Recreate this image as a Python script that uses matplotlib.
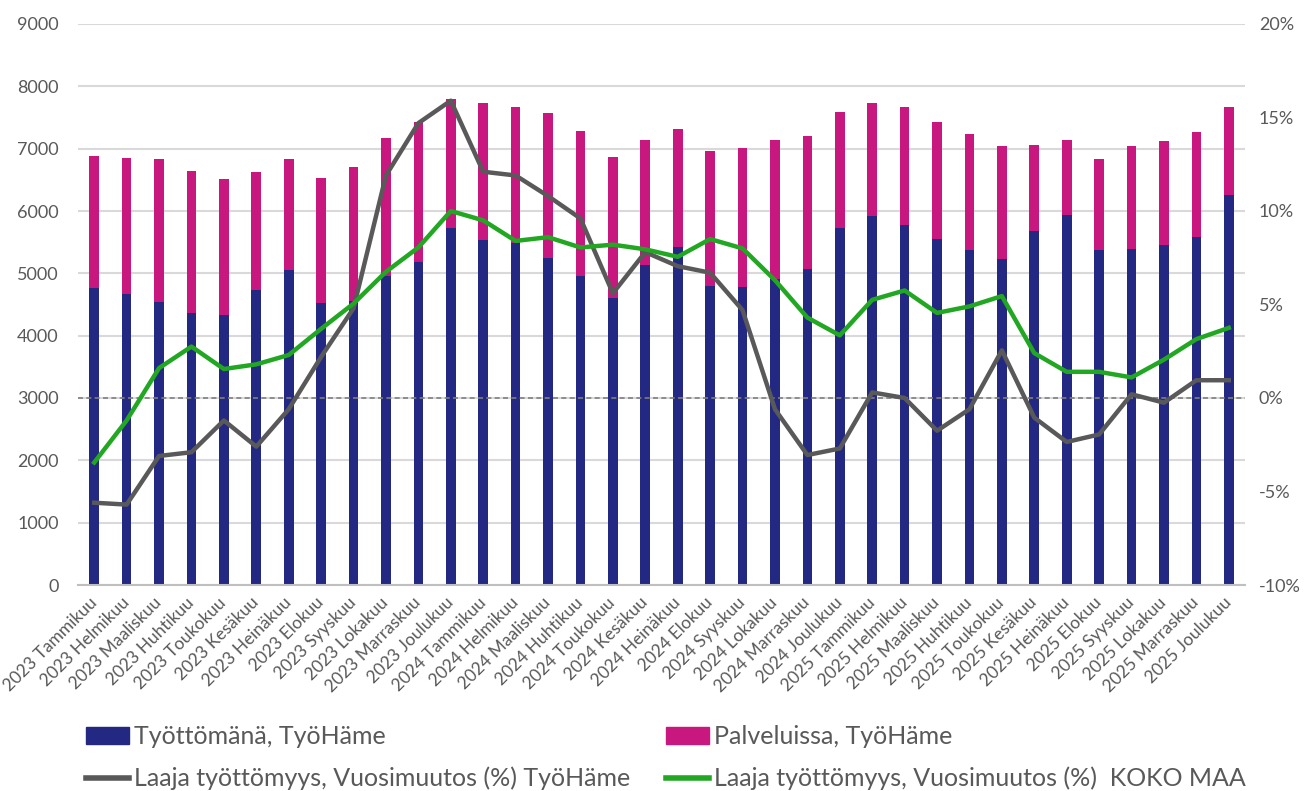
import matplotlib
matplotlib.use("Agg")
import matplotlib.pyplot as plt
from matplotlib.patches import Patch
from matplotlib.lines import Line2D
from matplotlib.ticker import FuncFormatter, MultipleLocator

plt.rcParams['font.family'] = ['Lato', 'DejaVu Sans']

months = ["Tammikuu", "Helmikuu", "Maaliskuu", "Huhtikuu", "Toukokuu", "Kesäkuu",
          "Heinäkuu", "Elokuu", "Syyskuu", "Lokakuu", "Marraskuu", "Joulukuu"]
categories = [f"{y} {m}" for y in (2023, 2024, 2025) for m in months]

tyottomana = [4770, 4670, 4545, 4370, 4325, 4730, 5055, 4530, 4560, 4960, 5185, 5730,
              5535, 5480, 5245, 4955, 4605, 5135, 5420, 4795, 4780, 4910, 5070, 5720,
              5915, 5770, 5545, 5370, 5235, 5680, 5940, 5370, 5395, 5450, 5590, 6260]
totals = [6885, 6855, 6830, 6640, 6510, 6625, 6835, 6535, 6705, 7175, 7430, 7800,
          7725, 7665, 7565, 7280, 6865, 7145, 7315, 6965, 7010, 7145, 7205, 7590,
          7740, 7665, 7430, 7240, 7040, 7065, 7145, 6835, 7035, 7130, 7270, 7665]
palveluissa = [t - u for t, u in zip(totals, tyottomana)]

muutos_tyohame = [-5.6, -5.7, -3.1, -2.9, -1.2, -2.6, -0.6, 2.2, 4.8, 11.9, 14.7, 15.9,
                  12.1, 11.9, 10.8, 9.6, 5.6, 7.8, 7.05, 6.7, 4.7, -0.6, -3.05, -2.7,
                  0.3, 0.0, -1.75, -0.6, 2.55, -1.05, -2.35, -1.95, 0.2, -0.25, 0.95, 0.95]
muutos_koko_maa = [-3.45, -1.2, 1.6, 2.75, 1.55, 1.8, 2.3, 3.7, 5.05, 6.75, 8.05, 10.0,
                   9.5, 8.4, 8.6, 8.05, 8.2, 7.95, 7.55, 8.5, 8.0, 6.3, 4.3, 3.35,
                   5.25, 5.75, 4.55, 4.9, 5.45, 2.4, 1.4, 1.4, 1.1, 2.05, 3.15, 3.75]

navy = "#232882"
magenta = "#C8177F"
grey = "#595959"
green = "#22A722"
txt = "#595959"

fig = plt.figure(figsize=(13.05, 7.91), dpi=100)
ax = fig.add_axes([78/1305, 1-585/791, (1245-78)/1305, (585-24)/791])
x = list(range(len(categories)))
bw = 0.3
ax.bar(x, tyottomana, width=bw, color=navy, zorder=2)
ax.bar(x, palveluissa, width=bw, bottom=tyottomana, color=magenta, zorder=2)
ax.set_ylim(0, 9000)
ax.set_xlim(-0.5, len(categories) - 0.5)
ax.yaxis.set_major_locator(MultipleLocator(1000))
ax.grid(axis='y', color="#D9D9D9", linewidth=1.5, zorder=0)
for s in ("top", "right", "left"):
    ax.spines[s].set_visible(False)
ax.spines["bottom"].set_color("#BFBFBF")
ax.spines["bottom"].set_linewidth(1.5)
ax.tick_params(axis='y', length=0, pad=14, labelsize=13, labelcolor=txt)
ax.tick_params(axis='x', length=0, pad=6, labelsize=12.5, labelcolor=txt)
ax.set_xticks(x)
ax.set_xticklabels(categories, rotation=45, ha='right', va='center', rotation_mode='anchor')
for lbl in ax.get_xticklabels():
    lbl.set_y(-0.012)

ax2 = ax.twinx()
ax2.set_ylim(-10, 20)
ax2.yaxis.set_major_locator(MultipleLocator(5))
ax2.yaxis.set_major_formatter(FuncFormatter(lambda v, p: f"{v:.0f}%"))
for s in ("top", "right", "left", "bottom"):
    ax2.spines[s].set_visible(False)
ax2.tick_params(axis='y', length=0, pad=10, labelsize=13, labelcolor=txt)
ax2.axhline(0, color="#7F7F7F", linewidth=1.2, linestyle=(0, (3, 2)), zorder=1)
ax2.plot(x, muutos_tyohame, color=grey, linewidth=3.2, zorder=3, solid_joinstyle='round')
ax2.plot(x, muutos_koko_maa, color=green, linewidth=3.2, zorder=4, solid_joinstyle='round')

handles = [Patch(facecolor=navy, edgecolor=navy),
           Line2D([], [], color=grey, linewidth=4),
           Patch(facecolor=magenta, edgecolor=magenta),
           Line2D([], [], color=green, linewidth=4)]
labels = ["Työttömänä, TyöHäme",
          "Laaja työttömyys, Vuosimuutos (%) TyöHäme",
          "Palveluissa, TyöHäme",
          "Laaja työttömyys, Vuosimuutos (%)  KOKO MAA"]
leg = fig.legend(handles, labels, ncol=2, loc='upper left',
                 bbox_to_anchor=(86/1305, 1-725/791), frameon=False,
                 fontsize=18, handlelength=1.72, handletextpad=0.22,
                 labelspacing=0.75, columnspacing=1.4, borderpad=0, borderaxespad=0)
for t in leg.get_texts():
    t.set_color(txt)

fig.savefig("out.png", dpi=100)
